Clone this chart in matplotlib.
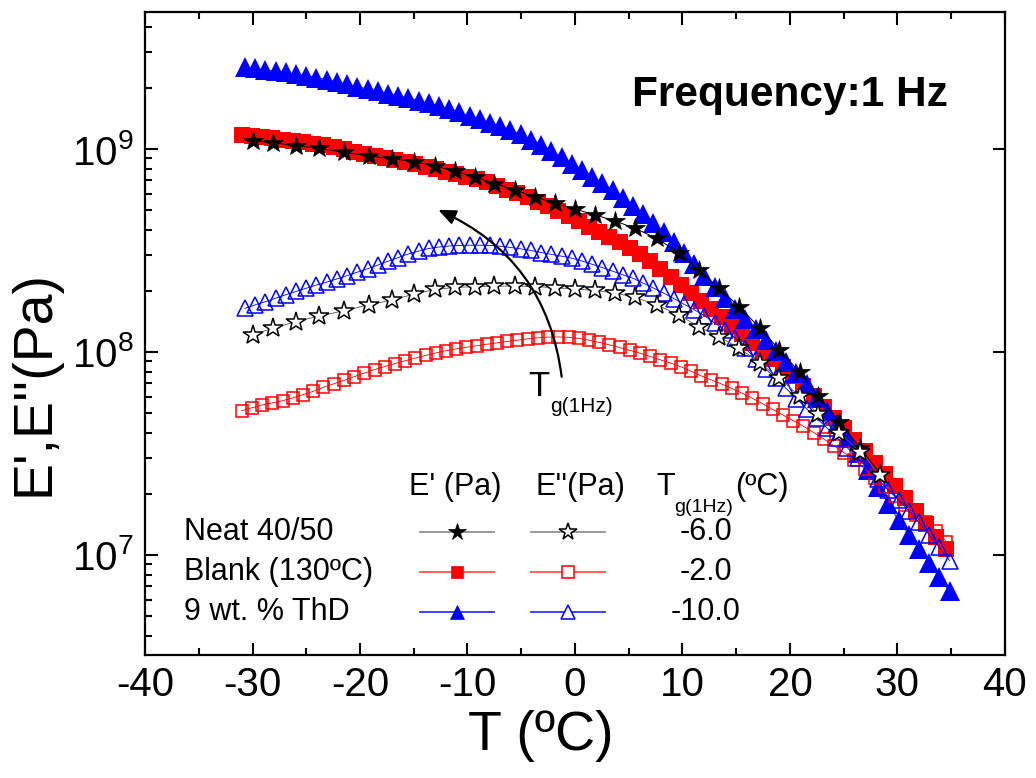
import numpy as np
import matplotlib
matplotlib.use("Agg")
import matplotlib.pyplot as plt
from matplotlib.ticker import LogLocator, MultipleLocator, FuncFormatter, NullFormatter

plt.rcParams['font.family'] = ['Liberation Sans', 'DejaVu Sans']
plt.rcParams['mathtext.fontset'] = 'custom'
plt.rcParams['mathtext.rm'] = 'Liberation Sans'
plt.rcParams['mathtext.it'] = 'Liberation Sans:italic'
plt.rcParams['mathtext.bf'] = 'Liberation Sans:bold'
plt.rcParams['axes.unicode_minus'] = False

# ---- data: temperature (ºC) and log10 of modulus (Pa) ----
T_neat = [-30.0, -28.1, -26.0, -23.8, -21.5, -19.2, -17.0, -14.95, -13.0, -11.15,
          -9.3, -7.5, -5.6, -3.75, -1.9, 0.0, 1.9, 3.75, 5.55, 7.6,
          9.65, 11.5, 13.4, 15.3, 17.2, 19.0, 20.9, 22.6, 24.6, 26.5, 28.4]
logEp_neat = [9.041, 9.031, 9.016, 9.003, 8.984, 8.966, 8.952, 8.938, 8.915, 8.890,
              8.862, 8.830, 8.798, 8.765, 8.734, 8.704, 8.675, 8.645, 8.610, 8.560,
              8.490, 8.405, 8.315, 8.222, 8.118, 8.012, 7.900, 7.785, 7.657, 7.528, 7.400]
logEpp_neat = [8.084, 8.117, 8.149, 8.177, 8.203, 8.232, 8.256, 8.286, 8.308, 8.318,
               8.322, 8.324, 8.325, 8.322, 8.317, 8.310, 8.303, 8.290, 8.270, 8.232,
               8.182, 8.125, 8.075, 8.018, 7.947, 7.870, 7.783, 7.695, 7.603, 7.509, 7.394]

T_blank = [-31.0, -30.05, -29.1, -28.15, -27.2, -26.25, -25.3, -24.35, -23.4, -22.45,
           -21.5, -20.55, -19.6, -18.65, -17.7, -16.75, -15.8, -14.85, -13.9, -12.95,
           -12.0, -11.05, -10.1, -9.15, -8.2, -7.25, -6.3, -5.35, -4.4, -3.45,
           -2.5, -1.55, -0.6, 0.35, 1.3, 2.25, 3.2, 4.15, 5.1, 6.05,
           7.0, 7.95, 8.9, 9.85, 10.8, 11.75, 12.7, 13.65, 14.6, 15.55,
           16.5, 17.45, 18.4, 19.35, 20.3, 21.25, 22.2, 23.15, 24.1, 25.05,
           26.0, 26.95, 27.9, 28.85, 29.8, 30.75, 31.7, 32.65, 33.6, 34.55]
logEp_blank = [9.067, 9.062, 9.057, 9.052, 9.046, 9.040, 9.033, 9.026, 9.018, 9.010,
               9.000, 8.987, 8.977, 8.968, 8.958, 8.947, 8.936, 8.924, 8.912, 8.900,
               8.888, 8.875, 8.862, 8.850, 8.835, 8.818, 8.800, 8.782, 8.762, 8.740,
               8.717, 8.693, 8.668, 8.643, 8.618, 8.593, 8.567, 8.540, 8.512, 8.482,
               8.450, 8.410, 8.370, 8.330, 8.290, 8.252, 8.213, 8.172, 8.130, 8.088,
               8.046, 8.005, 7.965, 7.925, 7.880, 7.833, 7.783, 7.730, 7.677, 7.623,
               7.568, 7.512, 7.455, 7.397, 7.338, 7.278, 7.216, 7.153, 7.090, 7.030]
logEpp_blank = [7.711, 7.725, 7.739, 7.749, 7.760, 7.774, 7.790, 7.806, 7.826, 7.843,
                7.860, 7.878, 7.896, 7.913, 7.928, 7.943, 7.957, 7.970, 7.983, 7.995,
                8.006, 8.015, 8.023, 8.031, 8.038, 8.045, 8.052, 8.058, 8.065, 8.070,
                8.073, 8.074, 8.072, 8.067, 8.058, 8.047, 8.035, 8.022, 8.008, 7.994,
                7.978, 7.961, 7.945, 7.927, 7.905, 7.882, 7.862, 7.842, 7.820, 7.797,
                7.772, 7.745, 7.717, 7.689, 7.662, 7.634, 7.603, 7.571, 7.537, 7.503,
                7.468, 7.424, 7.380, 7.335, 7.290, 7.245, 7.198, 7.160, 7.120, 7.065]

T_thd = [-30.7, -29.75, -28.8, -27.85, -26.9, -25.95, -25.0, -24.05, -23.1, -22.15,
         -21.2, -20.25, -19.3, -18.35, -17.4, -16.45, -15.5, -14.55, -13.6, -12.65,
         -11.7, -10.75, -9.8, -8.85, -7.9, -6.95, -6.0, -5.05, -4.1, -3.15,
         -2.2, -1.25, -0.3, 0.65, 1.6, 2.55, 3.5, 4.45, 5.4, 6.35,
         7.3, 8.25, 9.2, 10.15, 11.1, 12.05, 13.0, 13.95, 14.9, 15.85,
         16.8, 17.75, 18.7, 19.65, 20.6, 21.55, 22.5, 23.45, 24.4, 25.35,
         26.3, 27.25, 28.2, 29.15, 30.1, 31.05, 32.0, 32.95, 33.9, 34.85]
logEp_thd = [9.404, 9.397, 9.389, 9.383, 9.377, 9.369, 9.361, 9.352, 9.342, 9.331,
             9.318, 9.307, 9.296, 9.284, 9.272, 9.262, 9.252, 9.239, 9.225, 9.212,
             9.198, 9.181, 9.164, 9.146, 9.130, 9.114, 9.095, 9.072, 9.046, 9.020,
             8.990, 8.960, 8.926, 8.896, 8.864, 8.832, 8.797, 8.760, 8.720, 8.678,
             8.635, 8.590, 8.540, 8.487, 8.432, 8.375, 8.320, 8.265, 8.213, 8.163,
             8.113, 8.060, 8.005, 7.950, 7.895, 7.840, 7.775, 7.710, 7.645, 7.575,
             7.500, 7.420, 7.335, 7.250, 7.170, 7.100, 7.030, 6.960, 6.890, 6.820]
logEpp_thd = [8.215, 8.232, 8.248, 8.265, 8.282, 8.298, 8.314, 8.330, 8.344, 8.360,
              8.376, 8.393, 8.410, 8.428, 8.447, 8.465, 8.483, 8.497, 8.510, 8.517,
              8.522, 8.525, 8.526, 8.526, 8.525, 8.521, 8.515, 8.508, 8.500, 8.490,
              8.481, 8.472, 8.462, 8.448, 8.432, 8.416, 8.398, 8.380, 8.363, 8.339,
              8.315, 8.290, 8.263, 8.235, 8.208, 8.178, 8.142, 8.107, 8.070, 8.020,
              7.965, 7.915, 7.870, 7.820, 7.770, 7.720, 7.673, 7.625, 7.577, 7.527,
              7.477, 7.425, 7.372, 7.320, 7.270, 7.218, 7.160, 7.100, 7.037, 6.972]

samples = ["Neat 40/50", "Blank (130ºC)", "9 wt. % ThD"]
tg_values = ["-6.0", "-2.0", "-10.0"]


def pa(vals):
    return np.power(10.0, np.asarray(vals))


fig = plt.figure(figsize=(10.36, 7.78), dpi=100)
ax = fig.add_axes([0.140, 0.158, 0.830, 0.827])

# storage modulus / loss modulus curves
ax.plot(T_blank, pa(logEp_blank), '-', color='red', lw=0.6, marker='s', ms=11.5,
        mfc='red', mec='red', mew=0, zorder=2)
ax.plot(T_thd, pa(logEp_thd), '-', color='blue', lw=0.6, marker='^', ms=14,
        mfc='blue', mec='blue', mew=0, zorder=3)
ax.plot(T_blank, pa(logEpp_blank), '-', color='red', lw=0.6, marker='s', ms=9,
        mfc='none', mec='red', mew=1.1, zorder=4)
ax.plot(T_thd, pa(logEpp_thd), '-', color='blue', lw=0.6, marker='^', ms=12,
        mfc='none', mec='blue', mew=1.1, zorder=5)
ax.plot(T_neat, pa(logEp_neat), '-', color='black', lw=0.7, marker='*', ms=15,
        mfc='black', mec='black', mew=0.5, zorder=6)
ax.plot(T_neat, pa(logEpp_neat), '-', color='#555555', lw=0.6, marker='*', ms=15,
        mfc='white', mec='black', mew=1.1, zorder=7)

ax.set_xlim(-40, 40)
ax.set_yscale('log')
ax.set_ylim(3.21e6, 4.75e9)

ax.xaxis.set_major_locator(MultipleLocator(10))
ax.xaxis.set_minor_locator(MultipleLocator(5))
ax.yaxis.set_major_locator(LogLocator(base=10))
ax.yaxis.set_minor_locator(LogLocator(base=10, subs=np.arange(2, 10)))
ax.yaxis.set_minor_formatter(NullFormatter())
ax.yaxis.set_major_formatter(FuncFormatter(
    lambda v, p: r'$\mathregular{10^{%d}}$' % int(round(np.log10(v)))))

ax.tick_params(axis='both', which='both', direction='in', width=1.5)
ax.tick_params(axis='both', which='major', length=9, labelsize=29, pad=8)
ax.tick_params(axis='both', which='minor', length=5)
ax.tick_params(axis='x', which='both', top=True)
ax.tick_params(axis='y', which='major', right=True)
ax.tick_params(axis='y', which='minor', right=False)
for s in ax.spines.values():
    s.set_linewidth(1.6)

ax.set_xlabel('T (ºC)', fontsize=40)
ax.xaxis.set_label_coords(0.46, -0.085)
ax.set_ylabel("E',E''(Pa)", fontsize=40)
ax.yaxis.set_label_coords(-0.098, 0.423)

ax.text(0.566, 0.870, 'Frequency:1 Hz', transform=ax.transAxes, fontsize=30.5,
        fontweight='bold', ha='left', va='center')

# Tg shift arrow
ax.annotate('', xy=(-12.72, pa(8.70)), xytext=(-1.24, pa(7.878)),
            arrowprops=dict(arrowstyle='-|>,head_length=0.7,head_width=0.3',
                            connectionstyle='arc3,rad=0.28', lw=1.6,
                            color='black', mutation_scale=15,
                            shrinkA=0, shrinkB=0), zorder=8)
ax.text(0.446, 0.403, 'T', transform=ax.transAxes, fontsize=25,
        ha='left', va='baseline', zorder=8)
ax.text(0.471, 0.378, 'g(1Hz)', transform=ax.transAxes, fontsize=15,
        ha='left', va='baseline', zorder=8)

# table-style legend
hdr_y = 0.261
rows_y = [0.191, 0.129, 0.067]
x_lab, x_e1, x_e2, x_tg = 0.0453, 0.3628, 0.4919, 0.6523
half = 0.043
ax.text(0.3605, hdr_y, "E' (Pa)", transform=ax.transAxes, fontsize=22,
        ha='center', va='center')
ax.text(0.5058, hdr_y, "E''(Pa)", transform=ax.transAxes, fontsize=22,
        ha='center', va='center')
ax.text(0.595, hdr_y, 'T', transform=ax.transAxes, fontsize=22,
        ha='left', va='center')
ax.text(0.615, hdr_y - 0.032, 'g(1Hz)', transform=ax.transAxes, fontsize=14,
        ha='left', va='center')
ax.text(0.686, hdr_y, '(ºC)', transform=ax.transAxes, fontsize=22,
        ha='left', va='center')

line_cols = ['#909090', '#ff5050', '#3030ff']
sym = [('*', 'black', 13), ('s', 'red', 9), ('^', 'blue', 10)]
for name, tg, y, lc, (mk, mc, ms) in zip(samples, tg_values, rows_y, line_cols, sym):
    ax.text(x_lab, y, name, transform=ax.transAxes, fontsize=22,
            ha='left', va='center')
    ax.plot([x_e1 - half, x_e1 + half], [y, y], '-', color=lc, lw=1.3,
            transform=ax.transAxes, clip_on=False, zorder=9)
    ax.plot([x_e1], [y], marker=mk, ms=ms, mfc=mc, mec=mc, mew=0.5,
            transform=ax.transAxes, clip_on=False, zorder=10)
    ax.plot([x_e2 - half, x_e2 + half], [y, y], '-', color=lc, lw=1.3,
            transform=ax.transAxes, clip_on=False, zorder=9)
    ax.plot([x_e2], [y], marker=mk, ms=ms, mfc='white', mec=mc, mew=1.1,
            transform=ax.transAxes, clip_on=False, zorder=10)
    ax.text(x_tg, y, tg, transform=ax.transAxes, fontsize=22,
            ha='center', va='center')

fig.savefig('out.png', dpi=100)
